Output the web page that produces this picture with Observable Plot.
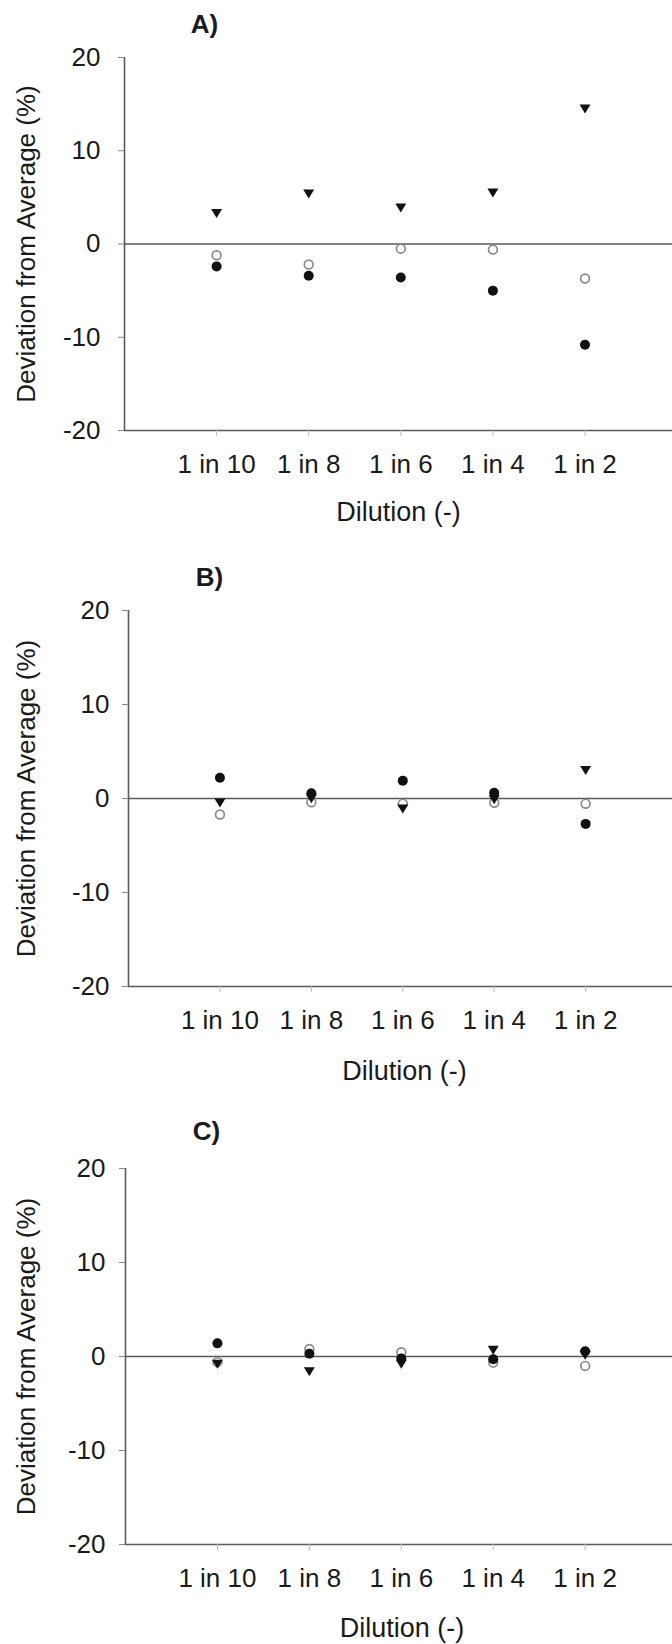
<!DOCTYPE html>
<html>
<head>
<meta charset="utf-8">
<script src="https://cdn.jsdelivr.net/npm/d3@7"></script>
<script src="https://cdn.jsdelivr.net/npm/@observablehq/plot@0.6"></script>
<style>
  html, body { margin: 0; padding: 0; background: #fff; }
  #wrap { position: relative; width: 672px; height: 1644px; overflow: hidden; }
  #wrap svg { position: absolute; left: 0; }
</style>
</head>
<body>
<div id="wrap"></div>
<script>
// ---- data ----
const categories = ["1 in 10", "1 in 8", "1 in 6", "1 in 4", "1 in 2"];
const yTicks = [-20, -10, 0, 10, 20];
const yTitle = "Deviation from Average (%)";
const xTitle = "Dilution (-)";
const panelLabels = ["A)", "B)", "C)"];

// Panel A
const aFilled   = [-2.4, -3.4, -3.6, -5.0, -10.8];
const aOpen     = [-1.2, -2.2, -0.5, -0.6, -3.7];
const aTriangle = [3.3, 5.4, 3.9, 5.5, 14.5];
// Panel B
const bFilled   = [2.2, 0.55, 1.9, 0.6, -2.7];
const bOpen     = [-1.7, -0.4, -0.55, -0.45, -0.55];
const bTriangle = [-0.45, 0.0, -1.1, -0.1, 3.0];
// Panel C
const cFilled   = [1.4, 0.3, -0.2, -0.3, 0.55];
const cOpen     = [-0.6, 0.8, 0.45, -0.65, -1.0];
const cTriangle = [-0.8, -1.6, -0.8, 0.7, 0.15];

// ---- helpers ----
const rows = vals => categories.map((c, i) => ({cat: c, i: i + 1, v: vals[i]}));
const triDown = {
  draw(ctx, size) {
    const r = Math.sqrt(size / Math.PI);
    ctx.moveTo(-1.1 * r, -0.85 * r);
    ctx.lineTo(1.1 * r, -0.85 * r);
    ctx.lineTo(0, 0.95 * r);
    ctx.closePath();
  }
};
const FONT = "'Liberation Sans', Arial, Helvetica, sans-serif";
const INK = "#1a1a1a";
const AXIS = "#5a5a5a";

function panel(cfg, label, filled, open, tri) {
  return Plot.plot({
    width: 672,
    height: cfg.height,
    marginTop: cfg.mt,
    marginBottom: cfg.mb,
    marginLeft: cfg.ml,
    marginRight: 0,
    style: {fontFamily: FONT, fontSize: "26px", color: INK, background: "transparent", overflow: "visible"},
    x: {domain: [0, 5.95], axis: null},
    y: {domain: [-20, 20], axis: null},
    marks: [
      Plot.ruleY([0], {stroke: AXIS, strokeWidth: 1.6}),
      Plot.ruleY([-20], {stroke: AXIS, strokeWidth: 1.6}),
      Plot.ruleX([0], {stroke: AXIS, strokeWidth: 1.6}),
      Plot.axisY({ticks: yTicks, tickFormat: d => String(d), tickSize: 6, tickPadding: cfg.yPad,
                  stroke: "#888", fill: INK, label: null}),
      Plot.axisX({ticks: categories.map((c, i) => i + 1), tickFormat: d => categories[d - 1],
                  tickSize: 6, tickPadding: 18.5, stroke: "#bbb", fill: INK, label: null}),
      Plot.dot(rows(open), {x: "i", y: "v", r: 4.4, fill: "white", stroke: "#8a8a8a", strokeWidth: 1.7}),
      Plot.dot(rows(filled), {x: "i", y: "v", r: 5, fill: "#111", stroke: "none"}),
      Plot.dot(rows(tri), {x: "i", y: "v", r: 5, symbol: triDown, fill: "#111", stroke: "none"}),
      Plot.text([label], {text: d => d, frameAnchor: "top-left", dx: cfg.labelDx, dy: cfg.labelDy,
                          textAnchor: "middle", lineAnchor: "middle", fontWeight: "bold", fontSize: 26, fill: INK}),
      Plot.text([yTitle], {text: d => d, frameAnchor: "left", dx: 26 - cfg.ml, rotate: -90,
                           textAnchor: "middle", lineAnchor: "middle", fontSize: 26, fill: INK}),
      Plot.text([xTitle], {text: d => d, frameAnchor: "bottom", dx: cfg.xtDx, dy: cfg.xtDy,
                           textAnchor: "middle", lineAnchor: "middle", fontSize: 27, fill: INK})
    ]
  });
}

const layouts = [
  {top: 0,    height: 553, mt: 57, mb: 123, ml: 124, yPad: 18, labelDx: 80, labelDy: -33, xtDx: 0, xtDy: 82},
  {top: 553,  height: 556, mt: 57, mb: 123, ml: 128, yPad: 13, labelDx: 81, labelDy: -33, xtDx: 4, xtDy: 85},
  {top: 1109, height: 535, mt: 59, mb: 100, ml: 125, yPad: 14, labelDx: 81, labelDy: -37, xtDx: 3, xtDy: 84}
];
const series = [
  [aFilled, aOpen, aTriangle],
  [bFilled, bOpen, bTriangle],
  [cFilled, cOpen, cTriangle]
];

const wrap = document.getElementById("wrap");
layouts.forEach((cfg, k) => {
  const svg = panel(cfg, panelLabels[k], ...series[k]);
  svg.style.top = cfg.top + "px";
  wrap.appendChild(svg);
});
</script>
</body>
</html>
